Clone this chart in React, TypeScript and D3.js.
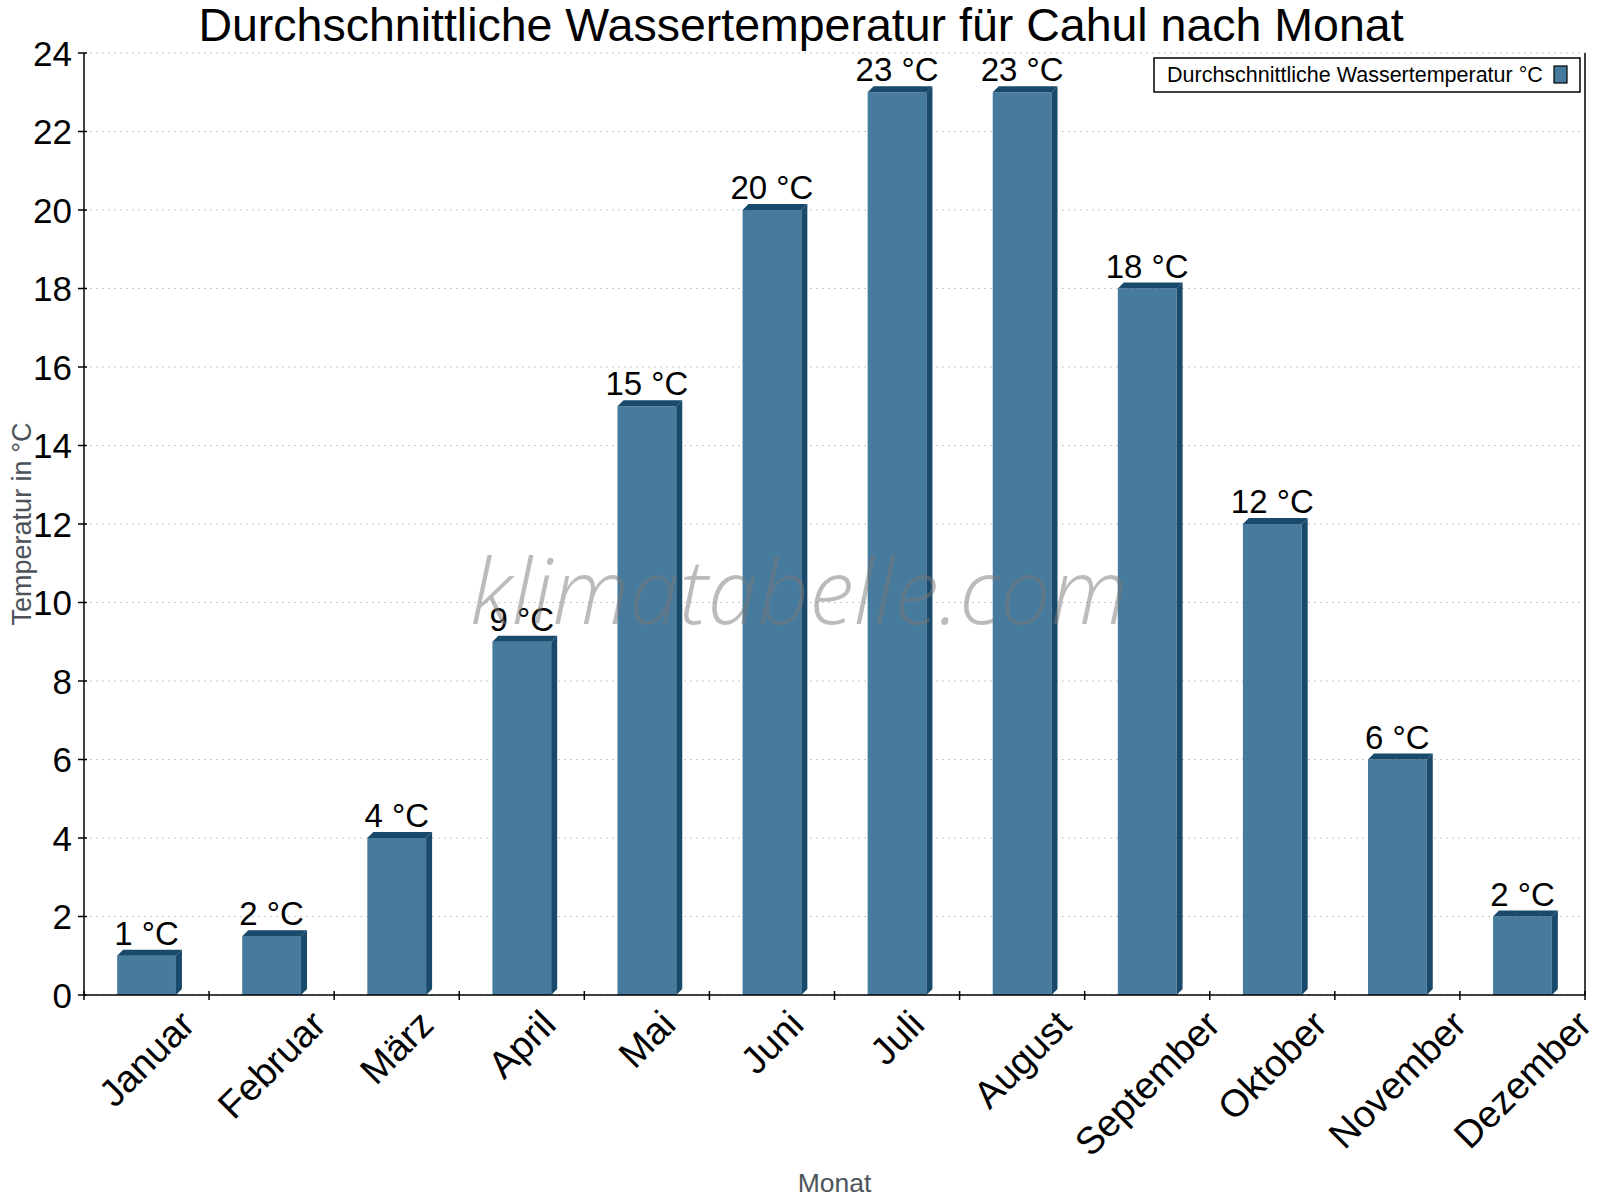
import * as d3 from 'd3';

const months = [
  'Januar', 'Februar', 'März', 'April', 'Mai', 'Juni',
  'Juli', 'August', 'September', 'Oktober', 'November', 'Dezember',
];
const waterTemp = [1, 1.5, 4, 9, 15, 20, 23, 23, 18, 12, 6, 2];
const yTicks = [0, 2, 4, 6, 8, 10, 12, 14, 16, 18, 20, 22, 24];

const W = 1600;
const H = 1200;
const margin = { left: 84, right: 15, top: 53, bottom: 205 };
const depth = 6;
const font = 'Liberation Sans, Arial, sans-serif';
const front = '#467b9e';
const dark = '#194a6b';
const xLabelSize = 38;

// measure label widths so the rotated labels can be centred under their column
const ctx = document.createElement('canvas').getContext('2d')!;
ctx.font = `${xLabelSize}px Liberation Sans, Arial, sans-serif`;
const textWidth = (s: string) => ctx.measureText(s).width;

export default function App() {
  const x = d3
    .scaleBand<string>()
    .domain(months)
    .range([margin.left, W - margin.right]);
  const y = d3
    .scaleLinear()
    .domain([0, 24])
    .range([H - margin.bottom, margin.top]);

  const y0 = y(0);
  const bw = x.bandwidth() * 0.47;
  const plotRight = W - margin.right;

  return (
    <div style={{ position: 'absolute', left: 0, top: 0 }}>
      <svg width={W} height={H} style={{ display: 'block', background: '#fff' }}>
        {/* grid */}
        {yTicks.map((t) => (
          <line
            key={'g' + t}
            x1={margin.left}
            x2={plotRight}
            y1={y(t)}
            y2={y(t)}
            stroke="#c8c8c8"
            strokeWidth={1}
            strokeDasharray="2,4"
          />
        ))}

        {/* bars */}
        {waterTemp.map((v, i) => {
          const cx = x(months[i])! + x.bandwidth() / 2;
          const bx = cx - bw / 2;
          const top = y(v);
          return (
            <g key={months[i]}>
              <rect x={bx} y={top} width={bw} height={y0 - top} fill={front} />
              <path
                d={`M${bx},${top}L${bx + depth},${top - depth}L${bx + bw + depth},${top - depth}L${bx + bw},${top}Z`}
                fill={dark}
              />
              <path
                d={`M${bx + bw},${top}L${bx + bw + depth},${top - depth}L${bx + bw + depth},${y0 - depth}L${bx + bw},${y0}Z`}
                fill={dark}
              />
              <text
                x={cx}
                y={top - depth - 5}
                textAnchor="middle"
                fontFamily={font}
                fontSize={33}
                fill="#000"
              >
                {Math.round(v)} °C
              </text>
            </g>
          );
        })}

        {/* watermark */}
        <text
          x={799}
          y={624}
          textAnchor="middle"
          fontFamily="'Open Sans', 'DejaVu Sans', sans-serif"
          fontStyle="italic"
          fontWeight={300}
          fontSize={90}
          fill="#777"
          fillOpacity={0.5}
        >
          klimatabelle.com
        </text>

        {/* axes */}
        <line x1={margin.left} x2={margin.left} y1={margin.top} y2={y0} stroke="#000" strokeWidth={1.5} />
        <line x1={plotRight} x2={plotRight} y1={margin.top} y2={y0} stroke="#000" strokeWidth={1.5} />
        <line x1={margin.left} x2={plotRight} y1={y0} y2={y0} stroke="#000" strokeWidth={1.5} />

        {yTicks.map((t) => (
          <g key={'y' + t}>
            <line x1={margin.left - 6} x2={margin.left + 3} y1={y(t)} y2={y(t)} stroke="#000" strokeWidth={1.5} />
            <text
              x={margin.left - 12}
              y={y(t)}
              textAnchor="end"
              dominantBaseline="central"
              fontFamily={font}
              fontSize={35}
              fill="#000"
            >
              {t}
            </text>
          </g>
        ))}

        {months.map((m, i) => {
          const xs = margin.left + i * x.step();
          const cx = x(m)! + x.bandwidth() / 2;
          const ext = (textWidth(m) + xLabelSize * 0.72) * Math.SQRT1_2;
          const cy = y0 + 13 + ext / 2;
          return (
            <g key={'x' + m}>
              <line x1={xs} x2={xs} y1={y0 - 4} y2={y0 + 5} stroke="#000" strokeWidth={1.5} />
              <text
                transform={`translate(${cx},${cy}) rotate(-45)`}
                textAnchor="middle"
                dominantBaseline="central"
                fontFamily={font}
                fontSize={xLabelSize}
                fill="#000"
              >
                {m}
              </text>
            </g>
          );
        })}
        <line x1={plotRight} x2={plotRight} y1={y0 - 4} y2={y0 + 5} stroke="#000" strokeWidth={1.5} />

        {/* titles */}
        <text x={801} y={41} textAnchor="middle" fontFamily={font} fontSize={46.5} fill="#000">
          Durchschnittliche Wassertemperatur für Cahul nach Monat
        </text>
        <text
          transform={`translate(31,${(margin.top + y0) / 2}) rotate(-90)`}
          textAnchor="middle"
          fontFamily={font}
          fontSize={27}
          fill="#4d5359"
        >
          Temperatur in °C
        </text>
        <text x={(margin.left + plotRight) / 2} y={1192} textAnchor="middle" fontFamily={font} fontSize={26.5} fill="#4d5359">
          Monat
        </text>

        {/* legend */}
        <rect x={1154} y={58} width={426} height={34} fill="#fff" stroke="#000" strokeWidth={1.5} />
        <text x={1167} y={82} fontFamily={font} fontSize={21.5} fill="#000">
          Durchschnittliche Wassertemperatur °C
        </text>
        <rect x={1554} y={66} width={13} height={17} fill={front} stroke="#000" strokeWidth={1.2} />
      </svg>
    </div>
  );
}
